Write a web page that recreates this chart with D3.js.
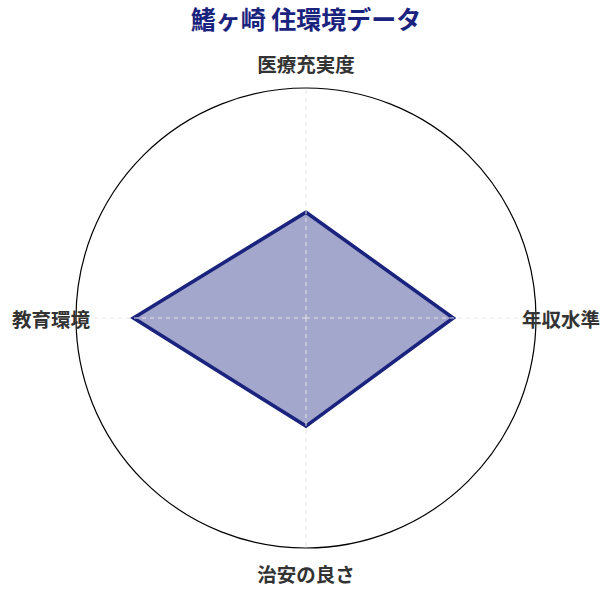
<!DOCTYPE html>
<html>
<head>
<meta charset="utf-8">
<script src="https://cdn.jsdelivr.net/npm/d3@7"></script>
<style>
  body { margin: 0; background: #fff; }
  text { font-family: "Noto Sans CJK JP", "Noto Sans", sans-serif; }
</style>
</head>
<body>
<div id="chart"></div>
<script>
// data (scale 0-100)
var axes = ["医療充実度", "年収水準", "治安の良さ", "教育環境"];
var values = [46, 64, 47, 75];
var title = "鰭ヶ崎 住環境データ";

var width = 612, height = 595;
var cx = 306, cy = 318, radius = 230;
var navy = "#1a237e";

var svg = d3.select("#chart").append("svg")
    .attr("width", width)
    .attr("height", height);

// title
svg.append("text")
    .attr("x", width / 2)
    .attr("y", 22)
    .attr("text-anchor", "middle")
    .attr("dominant-baseline", "middle")
    .style("font-size", "25px")
    .style("font-weight", "bold")
    .style("fill", navy)
    .text(title);

var g = svg.append("g")
    .attr("transform", `translate(${cx}, ${cy})`);

var rScale = d3.scaleLinear().domain([0, 100]).range([0, radius]);
var angle = d3.scaleLinear().domain([0, axes.length]).range([0, 2 * Math.PI]);

// outer circle
g.append("circle")
    .attr("r", rScale(100))
    .style("fill", "none")
    .style("stroke", "#000")
    .style("stroke-width", 1.2);

// data polygon
var line = d3.lineRadial()
    .angle(function (d, i) { return angle(i); })
    .radius(function (d) { return rScale(d); })
    .curve(d3.curveLinearClosed);

g.append("path")
    .datum(values)
    .attr("d", line)
    .style("fill", navy)
    .style("fill-opacity", 0.4)
    .style("stroke", navy)
    .style("stroke-width", 3.6)
    .style("stroke-linejoin", "miter");

// spokes (drawn on top like the reference)
axes.forEach(function (a, i) {
    var ang = angle(i);
    g.append("line")
        .attr("x1", 0).attr("y1", 0)
        .attr("x2", rScale(100) * Math.sin(ang))
        .attr("y2", -rScale(100) * Math.cos(ang))
        .style("stroke", "#e4e4e4")
        .style("stroke-width", 1)
        .style("stroke-dasharray", "4,4");

    g.append("text")
        .attr("x", (rScale(100) + 25) * Math.sin(ang))
        .attr("y", -(rScale(100) + 25) * Math.cos(ang))
        .attr("text-anchor", "middle")
        .attr("dominant-baseline", "central")
        .style("font-size", "19.5px")
        .style("font-weight", "bold")
        .style("fill", "#333")
        .text(a);
});
</script>
</body>
</html>
